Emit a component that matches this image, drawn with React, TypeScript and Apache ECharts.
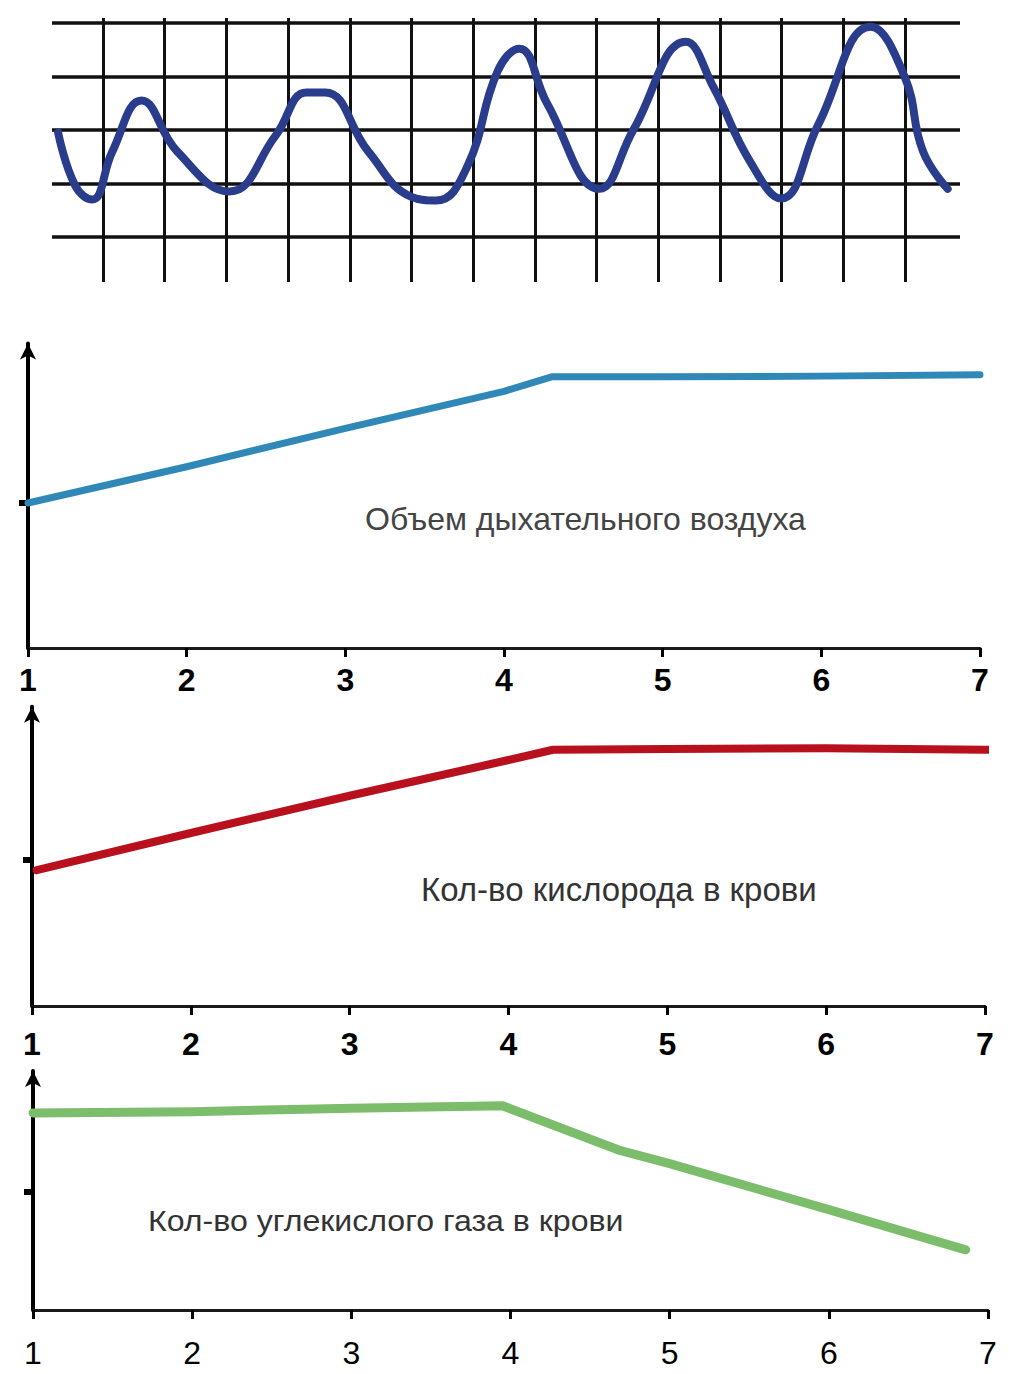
import { useEffect, useRef } from "react";
import * as echarts from "echarts";

// tick labels of the three lower charts
const tickLabels = ["1", "2", "3", "4", "5", "6", "7"];

// spirogram (in grid-cell units)
const waveX = [-0.73, -0.45, -0.18, 0.15, 0.62, 1.2, 2.05, 2.8, 3.3, 3.6, 4.3, 5.0, 5.4, 5.9, 6.4, 6.75, 7.2, 8.05, 8.6, 9.45, 9.9, 10.5, 11.0, 11.6, 12.45, 13.0, 13.3, 13.7];
const waveY = [1.95, 0.95, 0.7, 1.6, 2.55, 1.6, 0.85, 1.9, 2.7, 2.7, 1.6, 0.75, 0.68, 1.3, 3.1, 3.52, 2.5, 0.9, 2.0, 3.65, 2.8, 1.4, 0.72, 2.1, 3.93, 3.0, 1.6, 0.9];

// Объем дыхательного воздуха
const airX = [1, 2, 3, 4, 4.3, 5, 6, 7];
const airY = [2.0, 2.5, 3.03, 3.54, 3.74, 3.74, 3.75, 3.77];

// Кол-во кислорода в крови
const oxyX = [1.03, 2, 3, 4, 4.28, 5, 6, 7, 7.16];
const oxyY = [1.86, 2.37, 2.88, 3.37, 3.51, 3.52, 3.53, 3.51, 3.51];

// Кол-во углекислого газа в крови
const coX = [1, 2, 3, 3.95, 4.68, 5, 6, 6.86];
const coY = [3.34, 3.36, 3.42, 3.46, 2.71, 2.48, 1.7, 1.02];

const titles = ["Объем дыхательного воздуха", "Кол-во кислорода в крови", "Кол-во углекислого газа в крови"];

const zip = (xs: number[], ys: number[]) => xs.map((x, i) => [x, ys[i]]);

export default function App() {
  const ref = useRef<HTMLDivElement>(null);
  useEffect(() => {
    document.body.style.margin = "0";
    const chart = echarts.init(ref.current!, undefined, { renderer: "svg" });
    const font = "Liberation Sans, Arial, sans-serif";
    const chartX = (gi: number, margin: number, bold: boolean, size: number) => ({
      gridIndex: gi,
      type: "value",
      min: 1,
      max: 7,
      interval: 1,
      axisLine: { show: true, onZero: false, lineStyle: { color: "#1a1a1a", width: 3 } },
      axisTick: { show: true, length: 9, lineStyle: { color: "#000", width: 3 } },
      axisLabel: {
        show: true,
        margin,
        fontSize: size,
        fontWeight: bold ? "bold" : "normal",
        color: "#000",
        fontFamily: font,
        formatter: (v: number) => tickLabels[Math.round(v) - 1],
      },
      splitLine: { show: false },
    });
    const chartY = (gi: number, max: number) => ({
      gridIndex: gi,
      type: "value",
      min: 0,
      max,
      axisLine: {
        show: true,
        onZero: false,
        symbol: ["none", "arrow"],
        symbolSize: [12, 16],
        lineStyle: { color: "#000", width: 4 },
      },
      axisTick: { show: true, customValues: [2], length: 9, lineStyle: { color: "#000", width: 6 } },
      axisLabel: { show: false },
      splitLine: { show: false },
    });
    const lineSeries = (gi: number, data: number[][], color: string, width: number) => ({
      type: "line",
      xAxisIndex: gi,
      yAxisIndex: gi,
      data,
      symbol: "none",
      clip: false,
      lineStyle: { color, width, cap: "round", join: "round" },
    });
    chart.setOption({
      animation: false,
      backgroundColor: "#ffffff",
      grid: [
        { left: 52, top: 23, width: 908, height: 214 },
        { left: 103, top: 18, width: 802, height: 264 },
        { left: 28, top: 343.5, width: 952, height: 304.5 },
        { left: 32, top: 706.7, width: 953, height: 299.3 },
        { left: 33, top: 1071, width: 955, height: 239 },
      ],
      xAxis: [
        { gridIndex: 0, type: "value", min: -0.83, max: 13.9, show: false },
        {
          gridIndex: 1,
          type: "value",
          min: 0,
          max: 13,
          interval: 1,
          axisLine: { show: false },
          axisTick: { show: false },
          axisLabel: { show: false },
          splitLine: { show: true, lineStyle: { color: "#111", width: 3 } },
        },
        chartX(2, 16, true, 32),
        chartX(3, 22, true, 32),
        chartX(4, 27, false, 32),
      ],
      yAxis: [
        {
          gridIndex: 0,
          type: "value",
          min: 0,
          max: 4,
          interval: 1,
          axisLine: { show: false },
          axisTick: { show: false },
          axisLabel: { show: false },
          splitLine: { show: true, lineStyle: { color: "#111", width: 3.5 } },
        },
        { gridIndex: 1, type: "value", min: 0, max: 1, show: false },
        chartY(2, 4.2),
        chartY(3, 4.1),
        chartY(4, 4.05),
      ],
      series: [
        {
          type: "line",
          xAxisIndex: 0,
          yAxisIndex: 0,
          data: zip(waveX, waveY),
          smooth: 0.45,
          symbol: "none",
          clip: false,
          lineStyle: { color: "#2a3c8c", width: 8, cap: "round", join: "round" },
        },
        { type: "line", xAxisIndex: 1, yAxisIndex: 1, data: [], symbol: "none" },
        lineSeries(2, zip(airX, airY), "#2f88b8", 7),
        lineSeries(3, zip(oxyX, oxyY), "#b8111d", 8),
        lineSeries(4, zip(coX, coY), "#7cbd6c", 9),
      ],
      graphic: [
        { type: "text", x: 365, y: 503, scaleX: 1.0, style: { text: titles[0], fontSize: 32, fill: "#444", fontFamily: font, verticalAlign: "top" } },
        { type: "text", x: 421, y: 873, scaleX: 1.0, style: { text: titles[1], fontSize: 33, fill: "#333", fontFamily: font, verticalAlign: "top" } },
        { type: "text", x: 148, y: 1206, scaleX: 1.07, style: { text: titles[2], fontSize: 30, fill: "#333", fontFamily: font, verticalAlign: "top" } },
      ],
    });
    return () => chart.dispose();
  }, []);
  return <div ref={ref} style={{ position: "absolute", left: 0, top: 0, width: 1009, height: 1374 }} />;
}
